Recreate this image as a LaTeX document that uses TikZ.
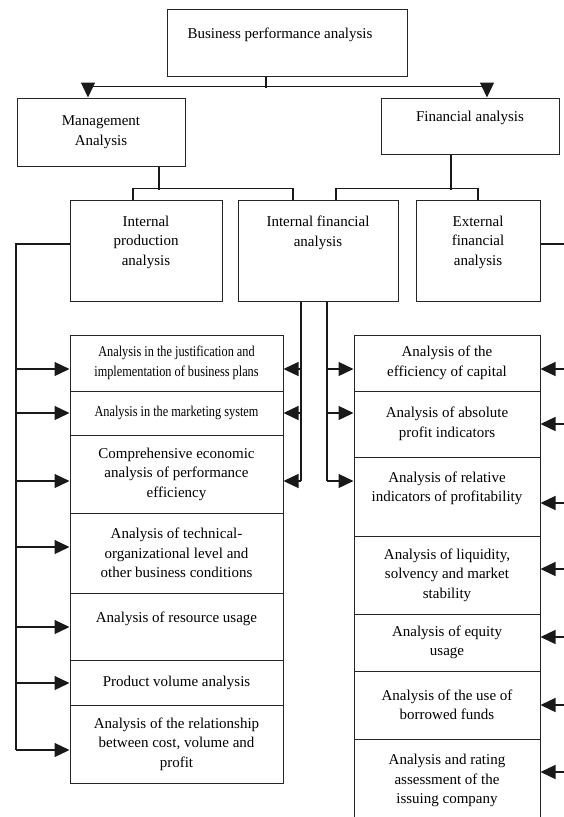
\documentclass[tikz,border=0pt]{standalone}
\usepackage{fontspec}
\setmainfont{Liberation Serif}
\usepackage{graphicx}
\usetikzlibrary{calc, arrows.meta}

\newcommand{\narrowtxt}[1]{\scalebox{0.82}[1]{#1}}

\begin{document}
\begin{tikzpicture}[x=1pt, y=-1pt,
    every node/.style={font=\fontsize{15}{19.5}\selectfont, align=center, inner sep=0pt},
    box/.style={draw=black!85, line width=1pt},
    lbox/.style={box, minimum width=213pt},
    rbox/.style={box, minimum width=186pt},
    conn/.style={draw=black!90, line width=1.3pt},
    arr/.style={conn, -{Triangle[length=15pt, width=14pt]}}]

    \path[use as bounding box, clip] (0,0) rectangle (564,817);

    % 1. upper levels
    \node[box, minimum width=240pt, minimum height=67pt] (top) at (287,42.5) {Business performance analysis\kern14pt\\\mbox{}};
    \node[box, minimum width=168pt, minimum height=68pt] (mgmt) at (101,132) {Management\\Analysis};
    \node[box, minimum width=178pt, minimum height=56pt] (fin) at (470,126) {Financial analysis\\\mbox{}};

    \node[box, minimum width=152pt, minimum height=101pt] (prod) at (146,250.5) {Internal\\production\\analysis\\\mbox{}};
    \node[box, minimum width=160pt, minimum height=101pt] (ifin) at (318,250.5) {Internal financial\\analysis\\\mbox{}\\\mbox{}};
    \node[box, minimum width=124pt, minimum height=101pt] (ext) at (478,250.5) {External\\financial\\analysis\\\mbox{}};

    % 2. left column
    \node[lbox, minimum height=56pt] (l1) at (176.5,363) {\narrowtxt{Analysis in the justification and}\\\narrowtxt{implementation of business plans}};
    \node[lbox, minimum height=44pt] (l2) at (176.5,413) {\narrowtxt{Analysis in the marketing system}};
    \node[lbox, minimum height=78pt] (l3) at (176.5,474) {Comprehensive economic\\analysis of performance\\efficiency};
    \node[lbox, minimum height=80pt] (l4) at (176.5,553) {Analysis of technical-\\organizational level and\\other business conditions};
    \node[lbox, minimum height=67pt] (l5) at (176.5,626.5) {Analysis of resource usage\\\mbox{}};
    \node[lbox, minimum height=45pt] (l6) at (176.5,682.5) {Product volume analysis};
    \node[lbox, minimum height=78pt] (l7) at (176.5,744) {Analysis of the relationship\\between cost, volume and\\profit};

    % 3. right column
    \node[rbox, minimum height=56pt] (r1) at (447,363) {Analysis of the\\efficiency of capital};
    \node[rbox, minimum height=66pt] (r2) at (447,424) {Analysis of absolute\\profit indicators};
    \node[rbox, minimum height=79pt] (r3) at (447,496.5) {Analysis of relative\\indicators of profitability\\\mbox{}};
    \node[rbox, minimum height=78pt] (r4) at (447,575) {Analysis of liquidity,\\solvency and market\\stability};
    \node[rbox, minimum height=57pt] (r5) at (447,642.5) {Analysis of equity\\usage};
    \node[rbox, minimum height=68pt] (r6) at (447,705) {Analysis of the use of\\borrowed funds};
    \node[rbox, minimum height=83pt] (r7) at (447,780.5) {Analysis and rating\\assessment of the\\issuing company};

    % 4. connectors between levels
    \draw[conn] ([xshift=-21pt]top.south) -- ++(0,11);
    \draw[conn] ($(mgmt.north)+(-13,-11)$) -- ($(fin.north)+(17,-11)$);
    \draw[arr] ($(mgmt.north)+(-13,-15)$) -- ([xshift=-13pt]mgmt.north);
    \draw[arr] ($(fin.north)+(17,-15)$) -- ([xshift=17pt]fin.north);

    \draw[conn] ([xshift=58pt]mgmt.south) -- ++(0,23);
    \draw[conn] ([xshift=-13pt]prod.north) -- ++(0,-11) -| ([xshift=-25pt]ifin.north);
    \draw[conn] ([xshift=-19pt]fin.south) -- ++(0,35);
    \draw[conn] ([xshift=18pt]ifin.north) -- ++(0,-11) -| (ext.north);

    % 5. rails and arrows
    \coordinate (lrail) at (16,0);
    \coordinate (redge) at (564,0);
    \foreach \n/\y in {a1/369, a2/413, a3/481, a4/547, a5/627, a6/683, a7/750}
        \coordinate (\n) at (0,\y);
    \foreach \n/\y in {b1/369, b2/424, b3/503, b4/569, b5/637, b6/705, b7/772}
        \coordinate (\n) at (0,\y);

    \draw[conn] ([yshift=6.5pt]prod.west) -| (lrail |- a7);
    \foreach \n/\r in {l1/a1, l2/a2, l3/a3, l4/a4, l5/a5, l6/a6, l7/a7}
        \draw[arr] (lrail |- \r) -- (\n.west |- \r);

    \draw[conn] ([xshift=-17pt]ifin.south) coordinate (mL) -- (mL |- a3);
    \draw[conn] ([xshift=9pt]ifin.south) coordinate (mR) -- (mR |- a3);
    \foreach \n/\r in {l1/a1, l2/a2, l3/a3}
        \draw[arr] (mL |- \r) -- (\n.east |- \r);
    \foreach \n/\r in {r1/a1, r2/a2, r3/a3}
        \draw[arr] (mR |- \r) -- (\n.west |- \r);

    \draw[conn] ([yshift=6.5pt]ext.east) coordinate (eo) -- (eo -| redge);
    \foreach \n/\r in {r1/b1, r2/b2, r3/b3, r4/b4, r5/b5, r6/b6, r7/b7}
        \draw[arr] (redge |- \r) -- (\n.east |- \r);

\end{tikzpicture}
\end{document}
